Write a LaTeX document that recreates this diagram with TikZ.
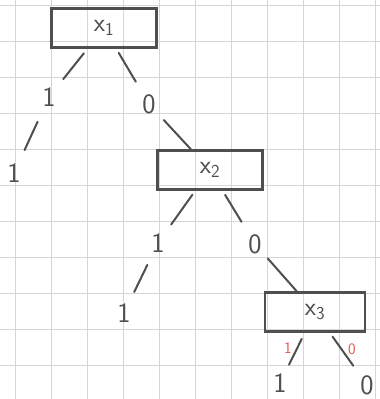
\documentclass[tikz,border=0pt]{standalone}
\usepackage{tikz}
\usetikzlibrary{positioning}
\definecolor{pencil}{HTML}{4F4F4F}
\definecolor{redpen}{HTML}{E8554E}
\definecolor{gridline}{HTML}{D6D6D6}

\begin{document}
\begin{tikzpicture}[x=1pt, y=-1pt, line cap=round,
  varbox/.style={draw=pencil, line width=2.2pt, minimum width=105pt, minimum height=39pt,
    inner sep=0pt, text=pencil, font=\sffamily\fontsize{26}{28}\selectfont},
  val/.style={inner sep=0pt, minimum width=12pt, minimum height=20pt, text=pencil,
    font=\sffamily\fontsize{28}{30}\selectfont},
  redval/.style={inner sep=0pt, text=redpen, font=\sffamily\fontsize{16}{17}\selectfont},
  edge/.style={draw=pencil, line width=2pt}]
  \useasboundingbox (0,0) rectangle (380,399);
  \fill[white] (0,0) rectangle (380,399);
  % squared paper
  \foreach \gx in {15,51,...,375}
    \draw[gridline, line width=0.6pt] (\gx,0) -- (\gx,399);
  \foreach \gy in {5,41,...,399}
    \draw[gridline, line width=0.6pt] (0,\gy) -- (380,\gy);

  \node[varbox] (x1) at (104,28) {x\textsubscript{1}};
  \node[val] (a1) at (49,97) {1};
  \node[val] (b1) at (149,104) {0};
  \node[val] (a1leaf) at (14,173) {1};
  \node[varbox] (x2) at (210,170) {x\textsubscript{2}};
  \node[val] (a2) at (158,243) {1};
  \node[val] (b2) at (255,244) {0};
  \node[val] (a2leaf) at (124,313) {1};
  \node[varbox, minimum width=100pt] (x3) at (315,312) {x\textsubscript{3}};
  \node[val] (a3leaf) at (280,383) {1};
  \node[val] (b3leaf) at (367,385) {0};
  \node[redval] (r1) at (288,348) {1};
  \node[redval] (r0) at (352,349) {0};

  \draw[edge, shorten <=6pt, shorten >=12pt] (x1) -- (a1);
  \draw[edge, shorten <=16pt, shorten >=14pt] (a1) -- (a1leaf);
  \draw[edge, shorten <=5pt, shorten >=14pt] (x1) -- (b1);
  \draw[edge, shorten <=12pt] (b1) -- (x2);
  \draw[edge, shorten <=5pt, shorten >=11pt] (x2) -- (a2);
  \draw[edge, shorten <=13pt, shorten >=12pt] (a2) -- (a2leaf);
  \draw[edge, shorten <=5pt, shorten >=14pt] (x2) -- (b2);
  \draw[edge, shorten <=9pt] (b2) -- (x3);
  \draw[edge, shorten <=7pt, shorten >=9pt] (x3) -- (a3leaf);
  \draw[edge, shorten <=5pt, shorten >=12pt] (x3) -- (b3leaf);
\end{tikzpicture}
\end{document}
